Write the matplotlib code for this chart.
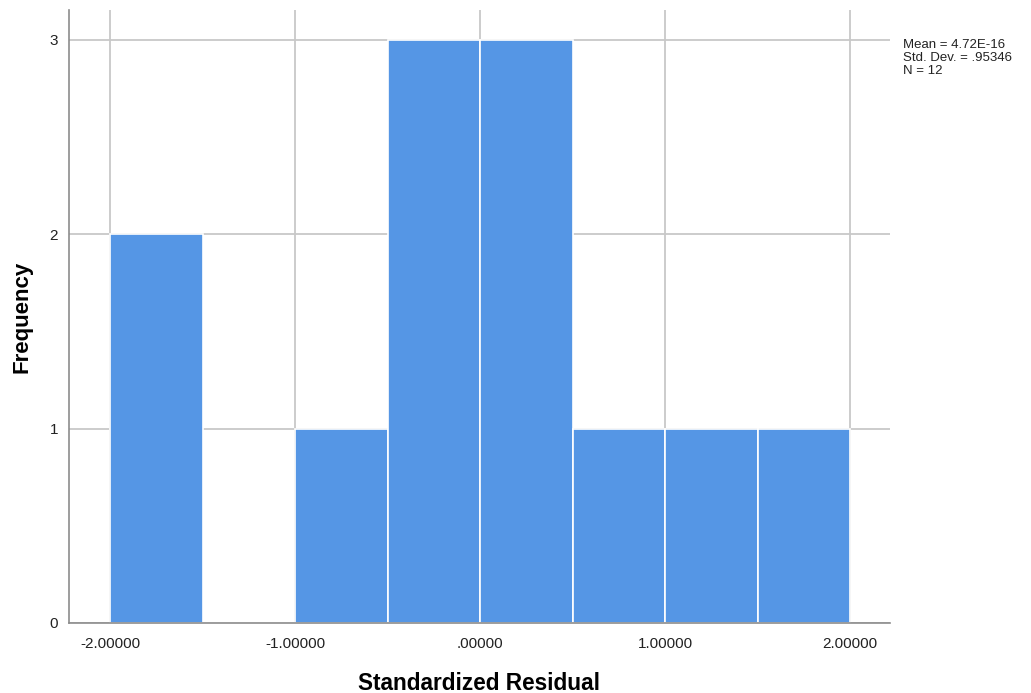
import matplotlib
matplotlib.use("Agg")
import matplotlib.pyplot as plt
import numpy as np

plt.rcParams['font.family'] = ['Liberation Sans', 'DejaVu Sans']

bin_edges = [-2.0, -1.5, -1.0, -0.5, 0.0, 0.5, 1.0, 1.5, 2.0]
counts = [2, 0, 1, 3, 3, 1, 1, 1]
xticks = [-2, -1, 0, 1, 2]
xticklabels = ["-2.00000", "-1.00000", ".00000", "1.00000", "2.00000"]
yticks = [0, 1, 2, 3]
stats_text = "Mean = 4.72E-16\nStd. Dev. = .95346\nN = 12"

fig = plt.figure(figsize=(10.31, 6.93), dpi=100)
ax = fig.add_axes([69/1031, 70/693, (890-69)/1031, (623-10)/693])

ax.set_xlim(-2.222, 2.216)
ax.set_ylim(0, 3.154)

ax.grid(True, color='#c8c8c8', linewidth=1.3, zorder=0)
ax.set_axisbelow(True)

lefts = np.array(bin_edges[:-1])
widths = np.diff(bin_edges)
ax.bar(lefts, counts, width=widths, align='edge', color='#5596e5',
       edgecolor='white', linewidth=1.2, zorder=2)

ax.set_xticks(xticks)
ax.set_xticklabels(xticklabels)
ax.set_yticks(yticks)
ax.tick_params(axis='both', length=0, labelsize=11, colors='#222222')
ax.tick_params(axis='x', pad=10)
ax.tick_params(axis='y', pad=8)

for s in ['top', 'right']:
    ax.spines[s].set_visible(False)
for s in ['left', 'bottom']:
    ax.spines[s].set_color('#8c8c8c')
    ax.spines[s].set_linewidth(1.2)

ax.set_xlabel("Standardized Residual", fontsize=16.3, fontweight='bold', va='center')
ax.xaxis.set_label_coords(0.5, (623-683)/613)
ax.set_ylabel("Frequency", fontsize=16, fontweight='bold', va='center', ha='center')
ax.yaxis.set_label_coords((22-69)/821, 0.5)

fig.text(903/1031, 1 - 39/693, stats_text, fontsize=9.5, va='top', ha='left',
         linespacing=1.12, color='#222222')

fig.savefig("out.png", dpi=100, facecolor='white')
